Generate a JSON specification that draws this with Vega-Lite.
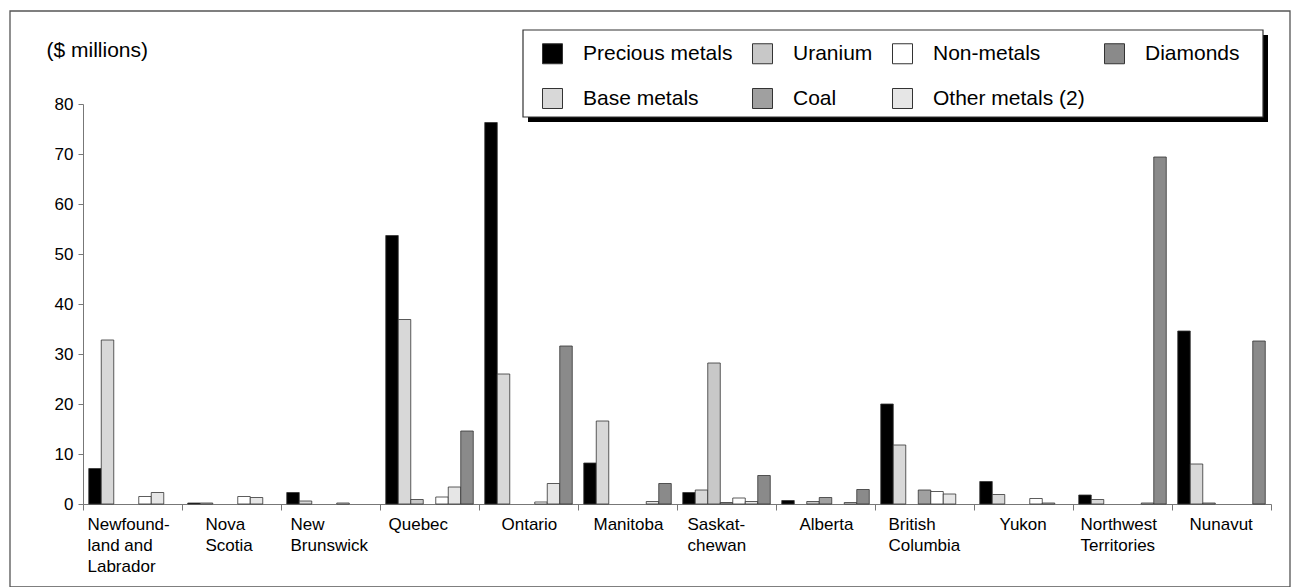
{
  "$schema": "https://vega.github.io/schema/vega-lite/v6.json",
  "width": 1188,
  "height": 400,
  "padding": {"left": 9, "top": 10, "right": 2, "bottom": 1},
  "background": "white",
  "config": {"view": {"stroke": null}, "font": "Liberation Sans"},
  "datasets": {
    "boxes": [
      {"part": "frame", "x0": -73, "x1": 1207, "y0": -16.6, "y1": 98.6},
      {"part": "shadow", "x0": 445, "x1": 1185, "y0": 76.4, "y1": 93.8},
      {"part": "legendbox", "x0": 440, "x1": 1180, "y0": 77.4, "y1": 94.8}
    ],
    "mining": [
      {"province": "Newfoundland and Labrador", "type": "Precious metals", "value": 7.1},
      {"province": "Newfoundland and Labrador", "type": "Base metals", "value": 32.8},
      {"province": "Newfoundland and Labrador", "type": "Non-metals", "value": 1.5},
      {"province": "Newfoundland and Labrador", "type": "Other metals (2)", "value": 2.3},
      {"province": "Nova Scotia", "type": "Precious metals", "value": 0.2},
      {"province": "Nova Scotia", "type": "Base metals", "value": 0.2},
      {"province": "Nova Scotia", "type": "Non-metals", "value": 1.5},
      {"province": "Nova Scotia", "type": "Other metals (2)", "value": 1.3},
      {"province": "New Brunswick", "type": "Precious metals", "value": 2.3},
      {"province": "New Brunswick", "type": "Base metals", "value": 0.6},
      {"province": "New Brunswick", "type": "Non-metals", "value": 0.2},
      {"province": "Quebec", "type": "Precious metals", "value": 53.7},
      {"province": "Quebec", "type": "Base metals", "value": 36.9},
      {"province": "Quebec", "type": "Uranium", "value": 0.9},
      {"province": "Quebec", "type": "Non-metals", "value": 1.4},
      {"province": "Quebec", "type": "Other metals (2)", "value": 3.4},
      {"province": "Quebec", "type": "Diamonds", "value": 14.6},
      {"province": "Ontario", "type": "Precious metals", "value": 76.3},
      {"province": "Ontario", "type": "Base metals", "value": 26.0},
      {"province": "Ontario", "type": "Non-metals", "value": 0.4},
      {"province": "Ontario", "type": "Other metals (2)", "value": 4.1},
      {"province": "Ontario", "type": "Diamonds", "value": 31.6},
      {"province": "Manitoba", "type": "Precious metals", "value": 8.2},
      {"province": "Manitoba", "type": "Base metals", "value": 16.6},
      {"province": "Manitoba", "type": "Other metals (2)", "value": 0.5},
      {"province": "Manitoba", "type": "Diamonds", "value": 4.1},
      {"province": "Saskatchewan", "type": "Precious metals", "value": 2.3},
      {"province": "Saskatchewan", "type": "Base metals", "value": 2.8},
      {"province": "Saskatchewan", "type": "Uranium", "value": 28.2},
      {"province": "Saskatchewan", "type": "Coal", "value": 0.3},
      {"province": "Saskatchewan", "type": "Non-metals", "value": 1.2},
      {"province": "Saskatchewan", "type": "Other metals (2)", "value": 0.5},
      {"province": "Saskatchewan", "type": "Diamonds", "value": 5.7},
      {"province": "Alberta", "type": "Precious metals", "value": 0.7},
      {"province": "Alberta", "type": "Uranium", "value": 0.5},
      {"province": "Alberta", "type": "Coal", "value": 1.3},
      {"province": "Alberta", "type": "Other metals (2)", "value": 0.3},
      {"province": "Alberta", "type": "Diamonds", "value": 2.9},
      {"province": "British Columbia", "type": "Precious metals", "value": 20.0},
      {"province": "British Columbia", "type": "Base metals", "value": 11.8},
      {"province": "British Columbia", "type": "Coal", "value": 2.8},
      {"province": "British Columbia", "type": "Non-metals", "value": 2.5},
      {"province": "British Columbia", "type": "Other metals (2)", "value": 2.0},
      {"province": "Yukon", "type": "Precious metals", "value": 4.5},
      {"province": "Yukon", "type": "Base metals", "value": 1.9},
      {"province": "Yukon", "type": "Non-metals", "value": 1.1},
      {"province": "Yukon", "type": "Other metals (2)", "value": 0.2},
      {"province": "Northwest Territories", "type": "Precious metals", "value": 1.8},
      {"province": "Northwest Territories", "type": "Base metals", "value": 0.9},
      {"province": "Northwest Territories", "type": "Other metals (2)", "value": 0.2},
      {"province": "Northwest Territories", "type": "Diamonds", "value": 69.4},
      {"province": "Nunavut", "type": "Precious metals", "value": 34.6},
      {"province": "Nunavut", "type": "Base metals", "value": 8.0},
      {"province": "Nunavut", "type": "Uranium", "value": 0.2},
      {"province": "Nunavut", "type": "Diamonds", "value": 32.6}
    ]
  },
  "layer": [
    {
      "data": {"name": "mining"},
      "mark": {"type": "bar", "stroke": "#333333", "strokeWidth": 0.8},
      "encoding": {
        "x": {
          "field": "province",
          "type": "nominal",
          "sort": ["Newfoundland and Labrador", "Nova Scotia", "New Brunswick", "Quebec", "Ontario", "Manitoba", "Saskatchewan", "Alberta", "British Columbia", "Yukon", "Northwest Territories", "Nunavut"],
          "scale": {"paddingInner": 0, "paddingOuter": 0},
          "axis": {
            "title": null,
            "bandPosition": 0,
            "labelAngle": 0,
            "labelAlign": "left",
            "labelBaseline": "top",
            "labelOffset": {
              "condition": [
                {"test": "datum.value == 'Newfoundland and Labrador'", "value": -45},
                {"test": "datum.value == 'Nova Scotia'", "value": -26},
                {"test": "datum.value == 'New Brunswick'", "value": -40},
                {"test": "datum.value == 'Quebec'", "value": -41},
                {"test": "datum.value == 'Ontario'", "value": -27},
                {"test": "datum.value == 'Manitoba'", "value": -34},
                {"test": "datum.value == 'Saskatchewan'", "value": -39},
                {"test": "datum.value == 'Alberta'", "value": -26},
                {"test": "datum.value == 'British Columbia'", "value": -36},
                {"test": "datum.value == 'Yukon'", "value": -24},
                {"test": "datum.value == 'Northwest Territories'", "value": -42},
                {"test": "datum.value == 'Nunavut'", "value": -32}
              ],
              "value": -40
            },
            "labelPadding": 6,
            "labelFontSize": 17,
            "labelLineHeight": 21,
            "labelColor": "#000000",
            "labelOverlap": false,
            "labelExpr": "datum.label == 'Newfoundland and Labrador' ? ['Newfound-', 'land and', 'Labrador'] : datum.label == 'Saskatchewan' ? ['Saskat-', 'chewan'] : split(datum.label, ' ')",
            "tickSize": 6,
            "tickColor": "#777777",
            "domainColor": "#777777",
            "grid": false
          }
        },
        "xOffset": {
          "field": "type",
          "type": "nominal",
          "scale": {"domain": ["Precious metals", "Base metals", "Uranium", "Coal", "Non-metals", "Other metals (2)", "Diamonds"], "paddingInner": 0, "paddingOuter": 0.46}
        },
        "y": {
          "field": "value",
          "type": "quantitative",
          "scale": {"domain": [0, 80], "nice": false},
          "axis": {
            "title": "($ millions)",
            "titleAngle": 0,
            "titleAlign": "left",
            "titleBaseline": "middle",
            "titleX": -37,
            "titleY": -54,
            "titleFontSize": 21,
            "titleFontWeight": "normal",
            "titleColor": "#000000",
            "values": [0, 10, 20, 30, 40, 50, 60, 70, 80],
            "labelFontSize": 17,
            "labelColor": "#000000",
            "labelPadding": 5,
            "tickSize": 5,
            "tickColor": "#777777",
            "domainColor": "#777777",
            "grid": false
          }
        },
        "color": {
          "field": "type",
          "type": "nominal",
          "scale": {
            "domain": ["Precious metals", "Uranium", "Non-metals", "Diamonds", "Base metals", "Coal", "Other metals (2)"],
            "range": ["#000000", "#c8c8c8", "#ffffff", "#8a8a8a", "#d8d8d8", "#a0a0a0", "#e6e6e6"]
          },
          "legend": {
            "orient": "none",
            "legendX": 459,
            "legendY": -61,
            "direction": "horizontal",
            "columns": 4,
            "title": null,
            "symbolType": "square",
            "symbolSize": 400,
            "symbolStrokeColor": "#333333",
            "symbolStrokeWidth": 1,
            "labelFontSize": 21,
            "labelColor": "#000000",
            "labelOffset": 20,
            "labelLimit": 300,
            "columnPadding": 17,
            "rowPadding": 20,
            "padding": 0
          }
        }
      }
    },
    {
      "data": {"name": "boxes"},
      "transform": [{"filter": "datum.part == 'frame'"}],
      "mark": {"type": "rect", "fill": null, "fillOpacity": 0, "stroke": "#555555", "strokeWidth": 1.3},
      "encoding": {
        "x": {
          "field": "x0", "type": "quantitative",
          "scale": {"domain": [0, 1188], "nice": false, "zero": false},
          "axis": {"orient": "bottom", "values": [1188], "labels": false, "domain": false, "grid": false, "title": null, "tickSize": 6, "tickColor": "#777777"}
        },
        "x2": {"field": "x1"},
        "y": {"field": "y0", "type": "quantitative", "scale": {"domain": [0, 80], "nice": false, "zero": false}, "axis": null},
        "y2": {"field": "y1"}
      }
    },
    {
      "data": {"name": "boxes"},
      "transform": [{"filter": "datum.part == 'shadow'"}],
      "mark": {"type": "rect", "fill": "#000000", "stroke": null},
      "encoding": {
        "x": {"field": "x0", "type": "quantitative", "scale": {"domain": [0, 1188], "nice": false, "zero": false}, "axis": null},
        "x2": {"field": "x1"},
        "y": {"field": "y0", "type": "quantitative", "scale": {"domain": [0, 80], "nice": false, "zero": false}, "axis": null},
        "y2": {"field": "y1"}
      }
    },
    {
      "data": {"name": "boxes"},
      "transform": [{"filter": "datum.part == 'legendbox'"}],
      "mark": {"type": "rect", "fill": "#ffffff", "stroke": "#333333", "strokeWidth": 1.2},
      "encoding": {
        "x": {"field": "x0", "type": "quantitative", "scale": {"domain": [0, 1188], "nice": false, "zero": false}, "axis": null},
        "x2": {"field": "x1"},
        "y": {"field": "y0", "type": "quantitative", "scale": {"domain": [0, 80], "nice": false, "zero": false}, "axis": null},
        "y2": {"field": "y1"}
      }
    }
  ],
  "resolve": {"scale": {"x": "independent", "y": "independent"}}
}
